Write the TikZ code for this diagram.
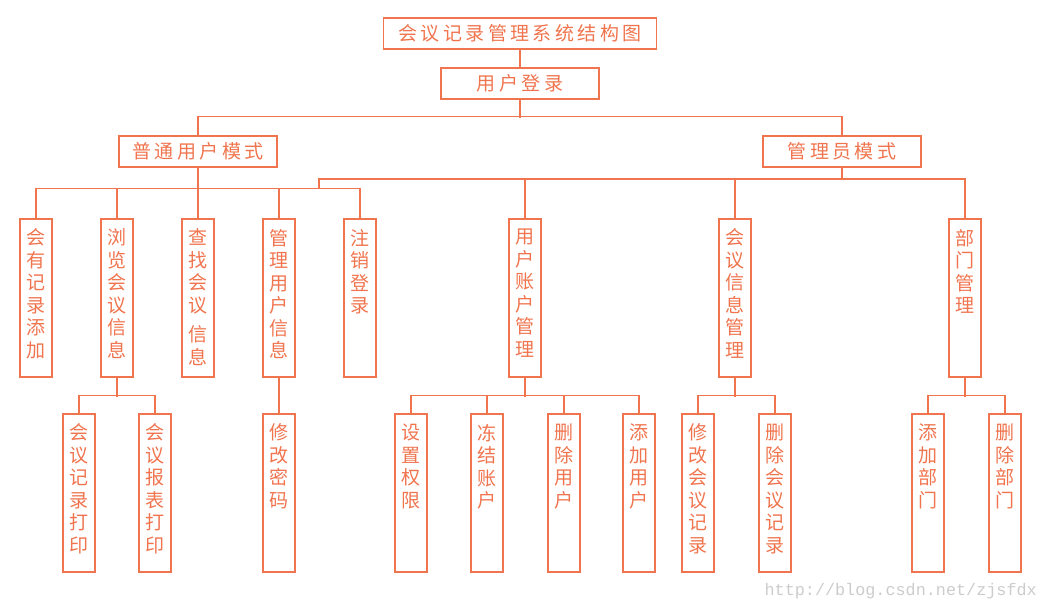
\documentclass[tikz,border=0pt]{standalone}
\usepackage{fontspec}
\setmainfont{Noto Sans CJK SC}[LetterSpace=18]
\newfontfamily\wmfont{Liberation Mono}
\usepackage{tikz}
\definecolor{lineorange}{RGB}{240,116,78}
% vertical text, starting near the top of the box
\newcommand{\vlabel}[1]{\parbox[c][158pt][t]{32pt}{\vspace*{10pt}\centering #1}}

\begin{document}
\begin{tikzpicture}[x=1pt,y=-1pt,
  headbox/.style={draw=lineorange, line width=1.4pt, inner sep=0pt, minimum height=31pt, text=lineorange, font=\fontsize{19}{22.5}\selectfont},
  itembox/.style={draw=lineorange, line width=1.4pt, inner sep=0pt, minimum width=32pt, minimum height=158pt, text=lineorange, font=\fontsize{19}{22.5}\selectfont},
  link/.style={draw=lineorange, line width=1.1pt}]
\useasboundingbox (0,0) rectangle (1047,607);
% top
\node[headbox, minimum width=273pt] (title) at (520,33.5) {会议记录管理系统结构图};
\node[headbox, minimum width=158pt] (login) at (520,83.5) {用户登录};
\node[headbox, minimum width=158pt] (normal) at (198,151.5) {普通用户模式};
\node[headbox, minimum width=158pt] (admin) at (842,151.5) {管理员模式};
% normal user
\node[itembox] (n1) at (36,298) {\vlabel{会\\有\\记\\录\\添\\加}};
\node[itembox] (n2) at (117,298) {\vlabel{浏\\览\\会\\议\\信\\息}};
\node[itembox] (n3) at (198,298) {\vlabel{查\\找\\会\\议\\[7pt]信\\息}};
\node[itembox] (n4) at (279,298) {\vlabel{管\\理\\用\\户\\信\\息}};
\node[itembox] (n5) at (360,298) {\vlabel{注\\销\\登\\录}};
% admin
\node[itembox] (a1) at (525,298) {\vlabel{用\\户\\账\\户\\管\\理}};
\node[itembox] (a2) at (735,298) {\vlabel{会\\议\\信\\息\\管\\理}};
\node[itembox] (a3) at (965,298) {\vlabel{部\\门\\管\\理}};
% third level
\node[itembox] (m1) at (79,493) {\vlabel{会\\议\\记\\录\\打\\印}};
\node[itembox] (m2) at (155,493) {\vlabel{会\\议\\报\\表\\打\\印}};
\node[itembox] (m3) at (279,493) {\vlabel{修\\改\\密\\码}};
\node[itembox] (u1) at (411,493) {\vlabel{设\\置\\权\\限}};
\node[itembox] (u2) at (487,493) {\vlabel{冻\\结\\账\\户}};
\node[itembox] (u3) at (564,493) {\vlabel{删\\除\\用\\户}};
\node[itembox] (u4) at (639,493) {\vlabel{添\\加\\用\\户}};
\node[itembox] (v1) at (698,493) {\vlabel{修\\改\\会\\议\\记\\录}};
\node[itembox] (v2) at (775,493) {\vlabel{删\\除\\会\\议\\记\\录}};
\node[itembox] (d1) at (928,493) {\vlabel{添\\加\\部\\门}};
\node[itembox] (d2) at (1005,493) {\vlabel{删\\除\\部\\门}};
\coordinate (kink) at (319,189);
% connectors
\draw[link] (title.south) -- (login.north);
\draw[link] (login.south) -- ++(0,18);
\draw[link] (normal.north) -- ++(0,-19) -| (admin.north);
\draw[link] (normal.south) -- ++(0,22);
\draw[link] (n1.north) -- ++(0,-30) -| (n5.north);
\foreach \n in {n2,n3,n4} \draw[link] (\n.north) -- ++(0,-30);
\draw[link] (admin.south) -- ++(0,12);
\draw[link] (kink) -- ++(0,-10) -| (a3.north);
\foreach \n in {a1,a2} \draw[link] (\n.north) -- ++(0,-40);
\draw[link] (n2.south) -- ++(0,19);
\draw[link] (m1.north) -- ++(0,-18) -| (m2.north);
\draw[link] (n4.south) -- (m3.north);
\draw[link] (a1.south) -- ++(0,19);
\draw[link] (u1.north) -- ++(0,-18) -| (u4.north);
\foreach \n in {u2,u3} \draw[link] (\n.north) -- ++(0,-18);
\draw[link] (a2.south) -- ++(0,19);
\draw[link] (v1.north) -- ++(0,-18) -| (v2.north);
\draw[link] (a3.south) -- ++(0,19);
\draw[link] (d1.north) -- ++(0,-18) -| (d2.north);
% watermark
\node[anchor=east, inner sep=0pt, text=black!20, font=\wmfont\fontsize{16.8}{18}\selectfont] (wm) at (1037,591) {http://blog.csdn.net/zjsfdx};
\end{tikzpicture}
\end{document}
